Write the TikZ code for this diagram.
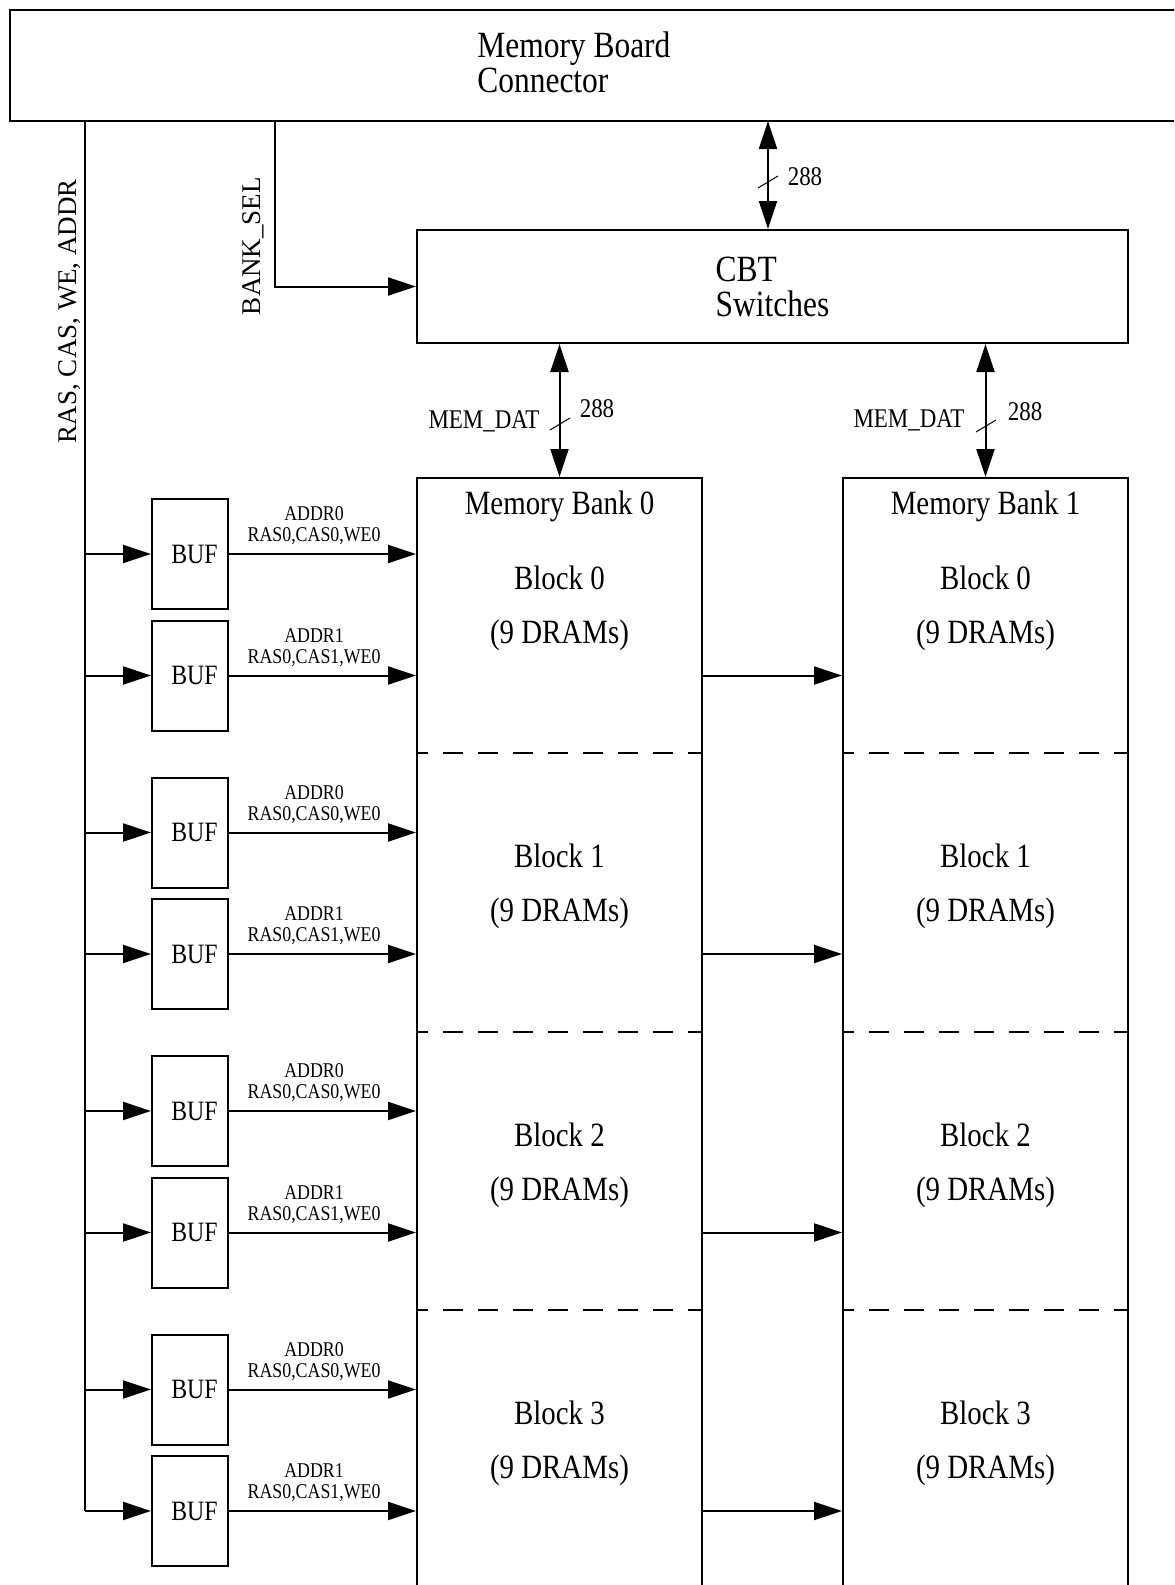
\documentclass[tikz,border=0pt]{standalone}
\usepackage{fontspec}
\setmainfont{Liberation Serif}[FakeStretch=0.85]
\newfontfamily\sidefont{Liberation Serif}
\usetikzlibrary{arrows.meta}
\tikzset{
  box/.style={draw, line width=1pt, inner sep=0pt},
  bufbox/.style={box, minimum width=38pt, minimum height=55pt,
    font=\fontsize{14}{16}\selectfont},
  bankbox/.style={box, minimum width=142.5pt, minimum height=580pt, anchor=north},
  arr/.style={line width=1pt, -{Triangle[length=14pt,width=9pt]}},
  darr/.style={line width=1pt,
    {Triangle[length=14pt,width=9pt]}-{Triangle[length=14pt,width=9pt]}},
  bigtxt/.style={font=\fontsize{17}{17.5}\selectfont, inner sep=0pt},
  headtxt/.style={font=\fontsize{18.5}{17.5}\selectfont, inner sep=0pt, align=left},
  blocktxt/.style={font=\fontsize{17}{27}\selectfont, inner sep=0pt, align=center},
  midtxt/.style={font=\fontsize{13.5}{16}\selectfont, inner sep=0pt},
  sidetxt/.style={font=\sidefont\fontsize{13.5}{16}\selectfont, inner sep=0pt},
  sig/.style={font=\fontsize{10.5}{10.5}\selectfont, inner sep=0pt, align=center},
  cutline/.style={line width=1pt, dash pattern=on 10pt off 7.5pt, dash phase=4pt},
}

\begin{document}
\begin{tikzpicture}[x=0.5pt, y=-0.5pt]
\useasboundingbox (0,0) rectangle (1174,1585);
\clip (0,0) rectangle (1174,1585);

% board connector, runs off the right edge of the page
\draw[line width=1pt] (1200,10) -- (10,10) -- (10,121) -- (1200,121);
\node[headtxt, anchor=west] (conn) at (477,62) {Memory Board\\Connector};
\coordinate (ctrltap) at (85,121);
\coordinate (seltap) at (275,121);
\coordinate (dattap) at (768,121);

\node[box, headtxt, minimum width=355.5pt, minimum height=56.5pt]
  (cbt) at (772.5,286.5) {CBT\\Switches};

% the two banks, cut off at the bottom
\node[bankbox] (bank0) at (559.5,477) {};
\node[bankbox] (bank1) at (985.5,477) {};
\node[bigtxt, anchor=base] (title0) at (bank0.north |- 0,514) {Memory Bank 0};
\node[bigtxt, anchor=base] (title1) at (bank1.north |- 0,514) {Memory Bank 1};

% data path
\draw[darr] (dattap) -- (cbt.north -| dattap);
\draw[darr] (cbt.south -| bank0.north) -- (bank0.north);
\draw[darr] (cbt.south -| bank1.north) -- (bank1.north);
\draw[line width=0.5pt] (758,188) -- (778,176);
\draw[line width=0.5pt] (550,430) -- (570,418);
\draw[line width=0.5pt] (976,432) -- (996,420);
\node[midtxt, anchor=base] (wtop) at (805,185) {288};
\node[midtxt, anchor=base] (wleft) at (597,417) {288};
\node[midtxt, anchor=base] (wright) at (1025,420) {288};
\node[midtxt, anchor=base] (datl) at (484,428) {MEM\_DAT};
\node[midtxt, anchor=base] (datr) at (909,427) {MEM\_DAT};

% control path
\draw[arr] (seltap) |- (cbt.west);
\node[sidetxt, rotate=90, anchor=base] (sellbl) at (260,246) {BANK\_SEL};
\node[sidetxt, rotate=90, anchor=base] (ctrllbl) at (76,311) {RAS, CAS, WE, ADDR};

\foreach \k in {0,...,3} {
  \node[bufbox] (bufa\k) at (190,{554+278.5*\k}) {\hskip4.5pt BUF};
  \node[bufbox] (bufb\k) at (190,{675.5+278.5*\k}) {\hskip4.5pt BUF};
  \draw[arr] (ctrltap |- bufa\k) -- (bufa\k.west);
  \draw[arr] (ctrltap |- bufb\k) -- (bufb\k.west);
  \draw[arr] (bufa\k.east) -- (bufa\k.east -| bank0.west)
    node[sig, pos=0.455, above=4pt] {ADDR0\\RAS0,CAS0,WE0};
  \draw[arr] (bufb\k.east) -- (bufb\k.east -| bank0.west)
    node[sig, pos=0.455, above=4pt] {ADDR1\\RAS0,CAS1,WE0};
  \draw[arr] (bufb\k -| bank0.east) -- (bufb\k -| bank1.west);
  \node[blocktxt] (blka\k) at (bank0.north |- 0,{608+278.5*\k}) {Block \k\\(9 DRAMs)};
  \node[blocktxt] (blkb\k) at (bank1.north |- 0,{608+278.5*\k}) {Block \k\\(9 DRAMs)};
}
\draw[line width=1pt] (ctrltap) -- (ctrltap |- bufb3);

% block boundaries
\foreach \k in {1,2,3} {
  \coordinate (cut\k) at (0,{753+278.5*(\k-1)});
  \draw[cutline] (bank0.west |- cut\k) -- (bank0.east |- cut\k);
  \draw[cutline] (bank1.west |- cut\k) -- (bank1.east |- cut\k);
}
\end{tikzpicture}
\end{document}
